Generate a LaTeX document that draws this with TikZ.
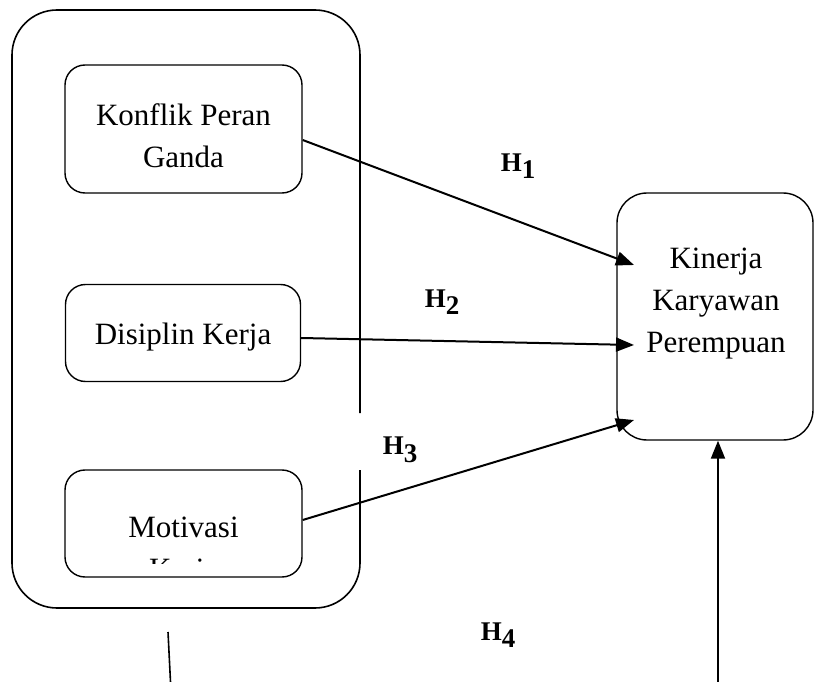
\documentclass[tikz,border=0pt]{standalone}
\usepackage{fontspec}
\setmainfont{Liberation Serif}
\usetikzlibrary{arrows.meta}
\newcommand{\hyp}[1]{\textbf{H}\raisebox{-0.28em}{\textbf{#1}}}
\begin{document}
\begin{tikzpicture}[x=1pt,y=-1pt,
  box/.style={draw,line width=1.4pt,rounded corners=20pt,inner sep=0pt},
  lbl/.style={font=\fontsize{31}{42}\selectfont,align=center,inner sep=0pt},
  hlab/.style={font=\fontsize{27}{30}\selectfont,inner sep=0pt},
  conn/.style={line width=2pt,-{Triangle[length=18pt,width=14pt]}},
  plain/.style={line width=1.6pt}]
\useasboundingbox (0,0) rectangle (815,682);
% outer group frame with a gap on its right edge
\draw[line width=1.6pt,rounded corners=45pt] (360,470) -- (360,608) -- (12,608) -- (12,10) -- (360,10) -- (360,413);
% inner boxes
\node[box,minimum width=237pt,minimum height=128pt] (k) at (183.5,129) {};
\node[lbl] (kt) at (183.5,136) {Konflik Peran\\Ganda};
\node[box,minimum width=235pt,minimum height=97pt] (d) at (183,333) {};
\node[lbl] (dt) at (183,337) {Disiplin Kerja};
\node[box,minimum width=237pt,minimum height=107pt] (m) at (183.5,523.5) {};
\begin{scope}
\clip (66,471) rectangle (301,563);
\node[lbl,anchor=base] (mt) at (183.5,579) {Motivasi\\Kerja};
\end{scope}
% dependent variable
\node[box,rounded corners=30pt,minimum width=196pt,minimum height=247pt] (y) at (715,316.5) {};
\node[lbl] (yt) at (716,304) {Kinerja\\Karyawan\\Perempuan};
% connectors
\coordinate (a1) at (634,265);
\coordinate (a2) at (634,345);
\coordinate (a3) at (634,420);
\draw[conn] (k.east |- 0,140) -- (a1);
\draw[conn] (d.east |- 0,338) -- (a2);
\draw[conn] (m.east |- 0,520) -- (a3);
\coordinate (b1) at (718,682);
\draw[conn] (b1) -- (y.south -| b1);
\coordinate (c1) at (168,632);
\coordinate (c2) at (170.5,682);
\draw[plain] (c1) -- (c2);
% labels
\node[hlab] (h1) at (518,166) {\hyp{1}};
\node[hlab] (h2) at (442,302) {\hyp{2}};
\node[hlab] (h3) at (400,450) {\hyp{3}};
\node[hlab] (h4) at (498,635) {\hyp{4}};
\end{tikzpicture}
\end{document}
